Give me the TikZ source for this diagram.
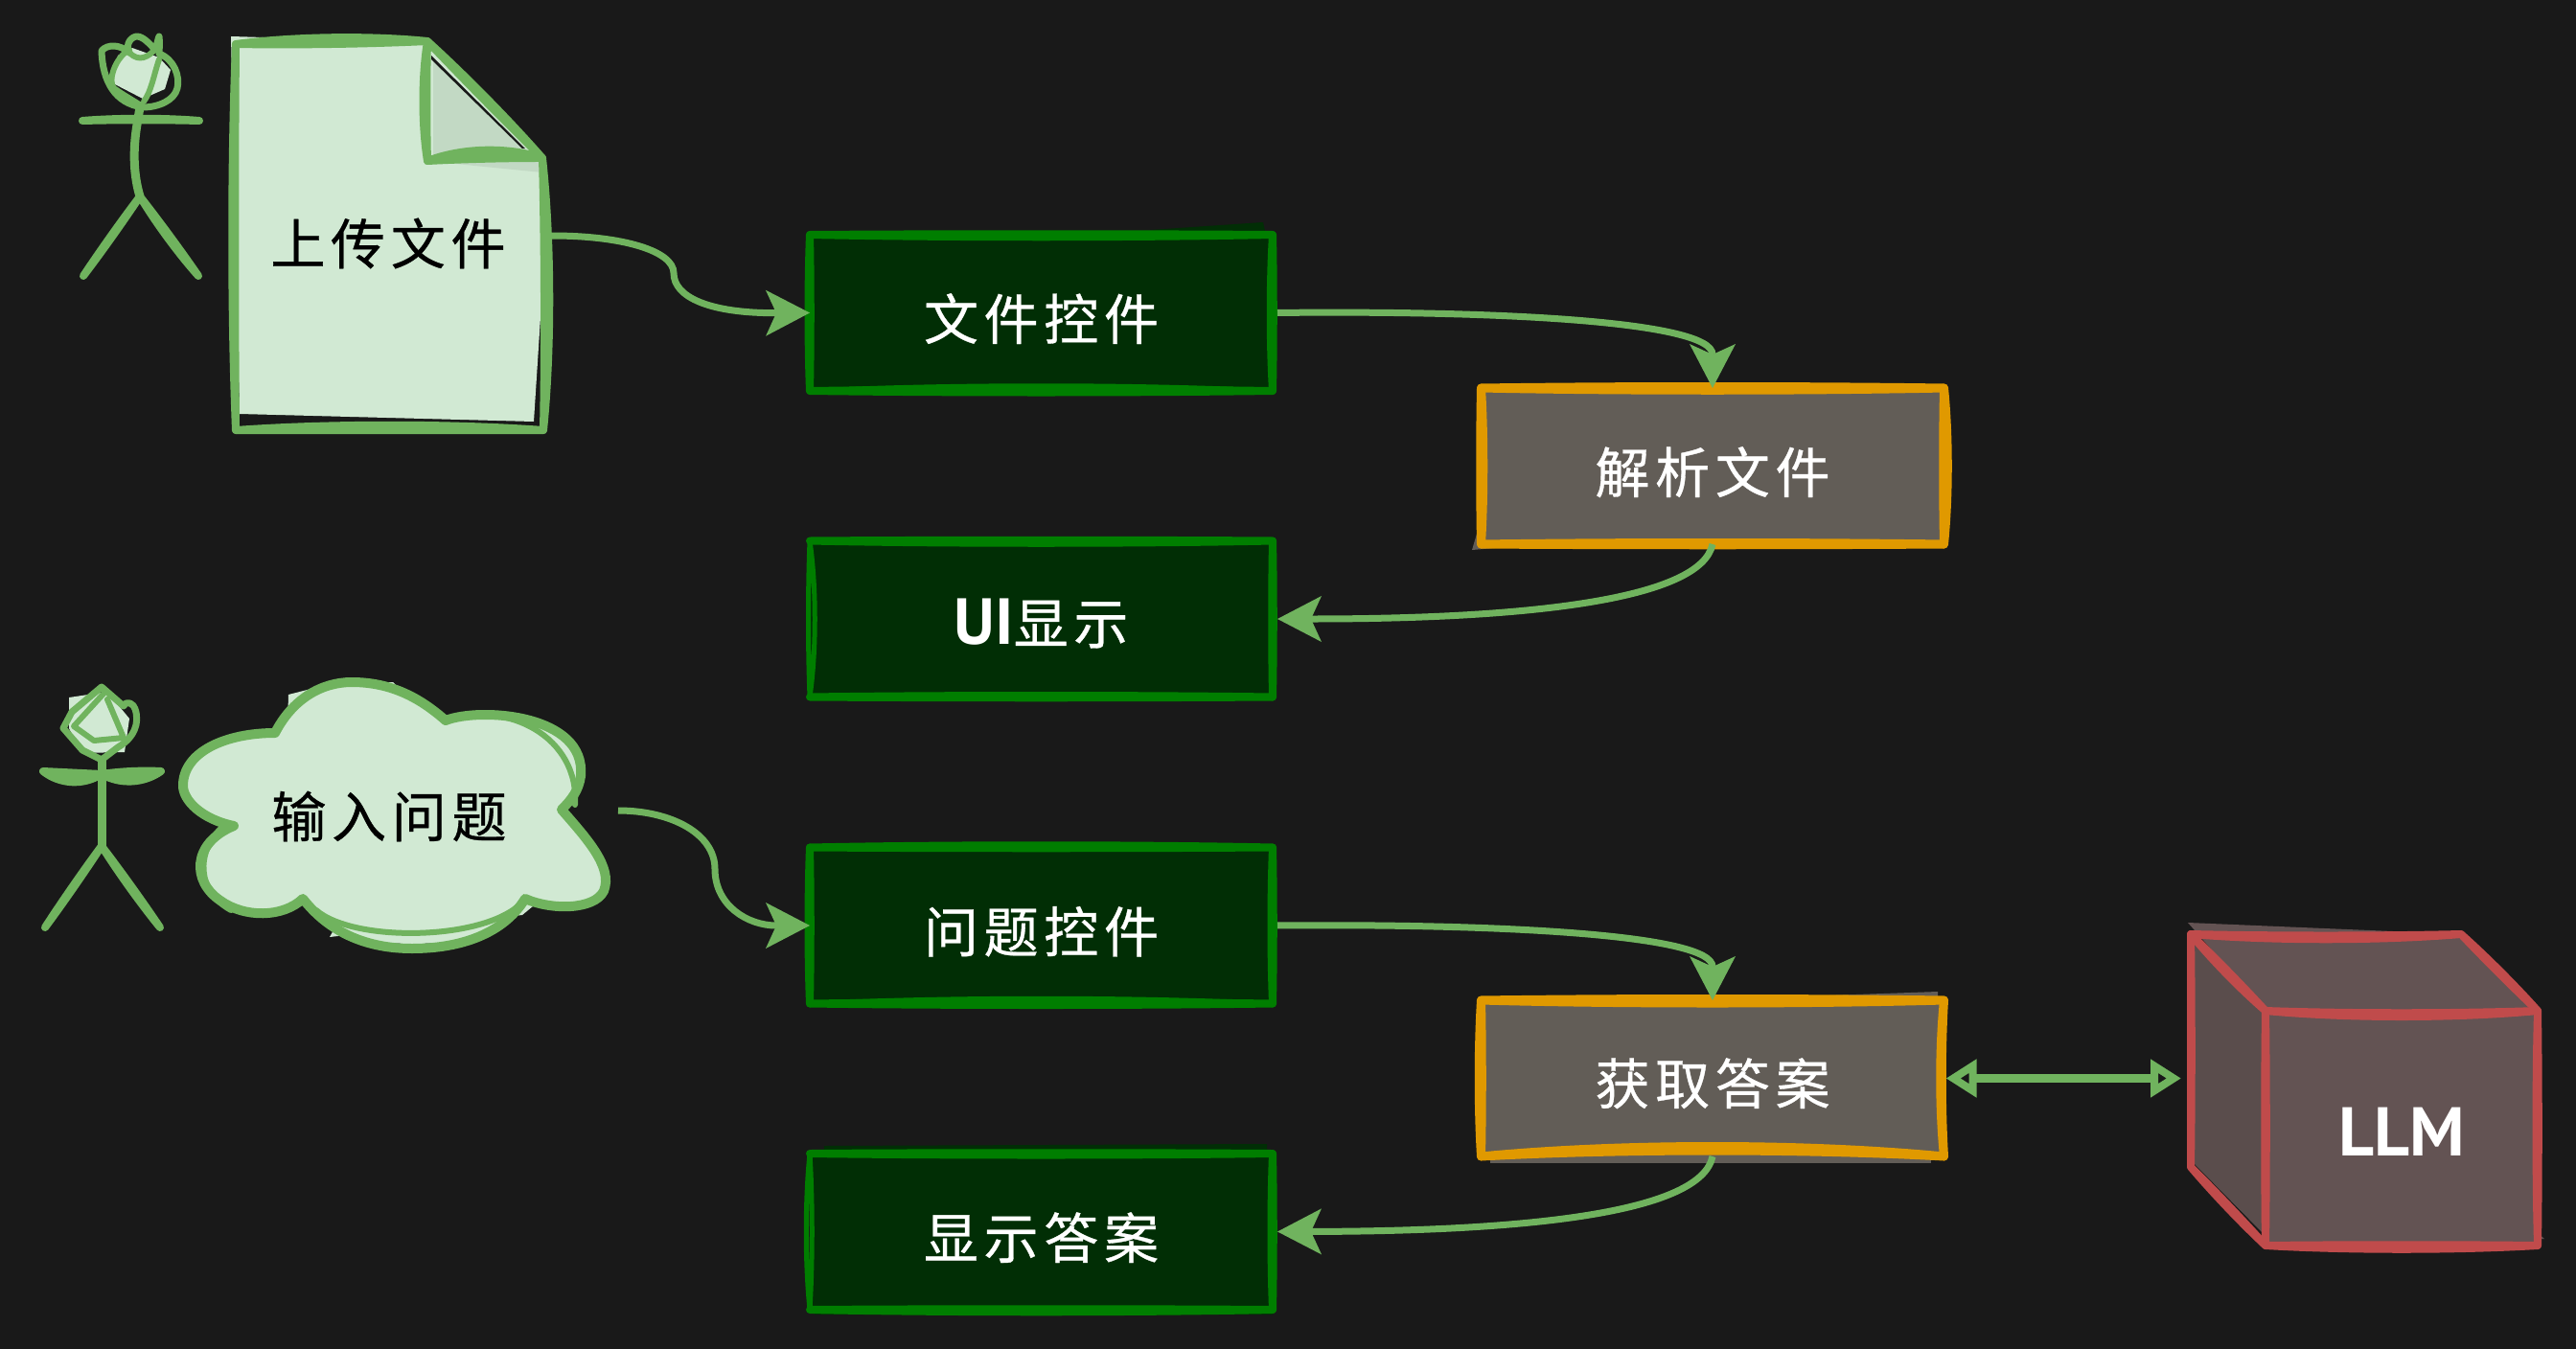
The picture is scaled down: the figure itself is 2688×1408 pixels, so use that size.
\documentclass[tikz,border=0pt]{standalone}
\usepackage{fontspec}
\usetikzlibrary{calc,arrows.meta}
\newfontfamily\cjk[LetterSpace=10,FakeBold=0.6]{Noto Sans CJK SC}
\newfontfamily\lat{PT Sans}
\definecolor{bgc}{HTML}{191919}
\definecolor{grn}{HTML}{70B35E}
\definecolor{lgt}{HTML}{D1E9D3}
\definecolor{fold}{HTML}{C2D9C4}
\definecolor{dgs}{HTML}{007E00}
\definecolor{dgf}{HTML}{012E05}
\definecolor{org}{HTML}{E09900}
\definecolor{gyf}{HTML}{625D57}
\definecolor{red}{HTML}{C04B4B}
\definecolor{cubf}{HTML}{635353}
\definecolor{cubl}{HTML}{5A4D4C}
\newcommand\sk[5]{\draw[#1,line join=round,line cap=round] #2 .. controls ($#2!.3!#3!#4pt!90:#3$) and ($#2!.7!#3!#4pt!90:#3$) .. #3 .. controls ($#3!.3!#2!#5pt!90:#2$) and ($#3!.7!#2!#5pt!90:#2$) .. #2 -- cycle;}
\newcommand\dropt[2]{\raisebox{-#1pt}[0pt][0pt]{#2}}
\tikzset{
  x=1pt,y=-1pt,
  txt/.style={font=\cjk\fontsize{57}{60}\selectfont,inner sep=0pt,outer sep=0pt},
  boxn/.style={txt,minimum width=483pt,minimum height=163pt,text=white},
  gbox/.style={boxn,fill=dgf},
  obox/.style={boxn,fill=gyf},
  gs/.style={draw=dgs,fill=dgs,line width=8pt},
  gh/.style={draw=dgs,fill=none,line width=5pt},
  os/.style={draw=org,fill=org,line width=9pt},
  oh/.style={draw=org,fill=none,line width=9pt},
  rs/.style={draw=red,fill=red,line width=8pt},
  ls/.style={draw=grn,fill=grn,line width=8pt},
  lw/.style={draw=grn,line width=7pt,line cap=round,line join=round},
  conn/.style={draw=grn,line width=7pt,-{Stealth[length=46pt,width=48pt,inset=11pt,line width=0pt]}},
  conb/.style={draw=grn,line width=9pt,{Triangle[open,length=32pt,width=38pt,line width=8pt]}-{Triangle[open,length=32pt,width=38pt,line width=8pt]}},
}
\begin{document}
\begin{tikzpicture}
\useasboundingbox (0,0) rectangle (2688,1408);
\fill[bgc] (0,0) rectangle (2688,1408);

% ---- person 1
\fill[lgt] (123,58)--(118,87)--(149,103)--(172,93)--(178,73)--(166,60)--(138,50)--cycle;
\draw[lw] (149,112) .. controls (120,108) and (107,85) .. (106,53) .. controls (112,46) and (125,46) .. (135,55) .. controls (130,45) and (138,38) .. (143,38) .. controls (150,38) and (158,48) .. (162,52) .. controls (164,46) and (165,40) .. (166,38) .. controls (167,45) and (166,52) .. (166,56) .. controls (182,62) and (188,80) .. (185,92) .. controls (182,105) and (165,112) .. (149,112);
\draw[lw,line width=6pt] (166,62) .. controls (160,80) and (158,95) .. (150,106);
\draw[lw,line width=6pt] (135,52) .. controls (120,60) and (112,85) .. (119,92) .. controls (130,100) and (140,105) .. (150,112);
\draw[lw,line width=6pt] (135,55) .. controls (145,65) and (155,60) .. (163,50);
\coordinate (h1) at (146,112);
\coordinate (w1) at (146,205);
\draw[lw,line width=9pt] (h1) -- (143,130) .. controls (138,160) and (140,185) .. (w1);
\sk{ls}{(86,126)}{(208,126)}{3}{-1}
\sk{ls}{(w1)}{(87,288)}{1}{1}
\sk{ls}{(w1)}{(207,288)}{1}{3}

% ---- document
\fill[lgt] (241,38)--(446,44)--(566,165)--(568,217)--(566,300)--(557,440)--(250,432)--cycle;
\fill[fold] (452,60)--(452,165)--(548,158)--cycle;
\fill[fold] (446,168)--(566,165)--(566,180)--cycle;
\fill[bgc] (450,58)--(548,155)--(545,155)--(450,62)--cycle;
\sk{ls}{(246,46)}{(446,43)}{7}{2}
\sk{ls}{(446,43)}{(566,165)}{3}{1}
\sk{ls}{(566,165)}{(567,449)}{9}{-2}
\sk{ls}{(567,449)}{(246,449)}{0}{7}
\sk{ls}{(246,449)}{(246,46)}{5}{-1}
\sk{ls}{(446,43)}{(446,168)}{-1}{6}
\sk{ls}{(446,168)}{(566,165)}{13}{-1}
\node[txt,text=black] (doc) at (405,254) {上传文件};
\coordinate (docout) at (576,246);

% ---- person 2
\fill[lgt] (72,728)--(112,722)--(135,750)--(130,785)--(85,786)--(72,760)--cycle;
\draw[lw] (106,717) -- (129,737) .. controls (132,730) and (140,735) .. (141,740) .. controls (146,755) and (140,770) .. (123,780) -- (106,793) -- (86,783) -- (66,760) -- (75,743) -- cycle;
\draw[lw,line width=6pt] (108,724) -- (77,758) -- (98,773) -- (129,770) -- (112,730);
\coordinate (h2) at (106,793);
\coordinate (w2) at (106,883);
\draw[lw,line width=9pt] (h2) -- (w2);
\sk{ls}{(45,805)}{(106,808)}{0}{13}
\sk{ls}{(106,808)}{(168,805)}{2}{12}
\sk{ls}{(w2)}{(47,968)}{1}{1}
\sk{ls}{(w2)}{(167,968)}{1}{2}

% ---- cloud
\fill[lgt] (301,725)--(340,715)--(410,712)--(450,750)--(300,760)--cycle;
\fill[lgt] (344,978)--(545,955)--(620,893)--(560,880)--(400,880)--cycle;
\fill[lgt] (287,765) .. controls (305,730) and (335,712) .. (367,712) .. controls (410,712) and (440,730) .. (465,752) .. controls (500,738) and (612,745) .. (606,810) .. controls (604,825) and (596,835) .. (586,845) .. controls (612,875) and (640,905) .. (630,930) .. controls (620,950) and (575,950) .. (548,938) .. controls (525,975) and (480,985) .. (430,985) .. controls (385,985) and (345,975) .. (316,938) .. controls (295,955) and (255,955) .. (230,940) .. controls (200,920) and (200,880) .. (244,862) .. controls (210,855) and (193,835) .. (193,820) .. controls (193,785) and (235,765) .. (287,765) -- cycle;
\draw[lw,line width=10pt] (287,765) .. controls (305,730) and (335,712) .. (367,712) .. controls (410,712) and (440,730) .. (465,752) .. controls (500,738) and (612,745) .. (606,810) .. controls (604,825) and (596,835) .. (586,845) .. controls (612,875) and (640,905) .. (630,930) .. controls (620,950) and (575,950) .. (548,938) .. controls (525,975) and (480,990) .. (430,990) .. controls (385,990) and (345,975) .. (316,938) .. controls (295,958) and (255,958) .. (230,940) .. controls (200,920) and (200,880) .. (244,862) .. controls (210,855) and (191,835) .. (191,820) .. controls (191,785) and (235,765) .. (287,765) -- cycle;
\draw[lw,line width=6pt] (548,938) .. controls (515,982) and (370,985) .. (330,950);
\draw[lw,line width=6pt] (241,950) .. controls (205,930) and (205,890) .. (230,865);
\draw[lw,line width=6pt] (465,752) .. controls (530,730) and (605,770) .. (600,840);
\node[txt,text=black] (cloud) at (406,852) {输入问题};
\coordinate (cloudout) at (645,846);

% ---- green boxes
\fill[dgf] (1200,240)--(1318,232)--(1322,250)--cycle;
\node[gbox] (file) at (1086.5,326.5) {\dropt{28}{文件控件}};
\sk{gs}{(file.north west)}{(file.north east)}{1}{3}
\sk{gs}{(file.north east)}{(file.south east)}{1}{3}
\sk{gs}{(file.south east)}{(file.south west)}{2}{2}
\sk{gh}{(file.south east)}{(file.south west)}{-4}{7}
\sk{gs}{(file.south west)}{(file.north west)}{2}{1}

\node[gbox] (ui) at (1086.5,646) {\dropt{26}{\lat\bfseries\fontsize{68}{70}\selectfont UI\cjk\mdseries\fontsize{57}{60}\selectfont 显示}};
\sk{gs}{(ui.north west)}{(ui.north east)}{1}{3}
\sk{gs}{(ui.north east)}{(ui.south east)}{1}{1}
\sk{gs}{(ui.south east)}{(ui.south west)}{1}{2}
\sk{gh}{(ui.south west)}{(ui.north west)}{2}{7}

\node[gbox] (ques) at (1086.5,966) {\dropt{28}{问题控件}};
\sk{gs}{(ques.north west)}{(ques.north east)}{3}{1}
\sk{gs}{(ques.north east)}{(ques.south east)}{1}{2}
\sk{gs}{(ques.south east)}{(ques.south west)}{2}{2}
\sk{gh}{(ques.south east)}{(ques.south west)}{-4}{7}
\sk{gs}{(ques.south west)}{(ques.north west)}{2}{1}

\fill[dgf] (860,1196)--(1322,1194)--(1328,1372)--(850,1372)--cycle;
\node[gbox] (ans) at (1086.5,1285.5) {\dropt{28}{显示答案}};
\sk{gs}{(ans.north west)}{(ans.north east)}{1}{2}
\sk{gs}{(ans.north east)}{(ans.south east)}{1}{2}
\sk{gs}{(ans.south east)}{(ans.south west)}{3}{1}
\sk{gh}{(ans.south west)}{(ans.north west)}{5}{3}

% ---- orange boxes
\fill[gyf] (1546,540)--(1700,560)--(1536,574)--cycle;
\node[obox] (parse) at (1787,486.5) {\dropt{28}{解析文件}};
\sk{os}{(parse.north west)}{(parse.north east)}{2}{3}
\sk{os}{(parse.north east)}{(parse.south east)}{5}{1}
\sk{os}{(parse.south east)}{(parse.south west)}{1}{2}
\sk{os}{(parse.south west)}{(parse.north west)}{1}{3}

\fill[gyf] (1880,1040)--(2022,1035)--(2022,1050)--cycle;
\fill[gyf] (1555,1200)--(2015,1200)--(2015,1214)--(1555,1214)--cycle;
\node[obox] (get) at (1787,1125.5) {\dropt{27}{获取答案}};
\sk{os}{(get.north west)}{(get.north east)}{2}{4}
\sk{os}{(get.north east)}{(get.south east)}{-3}{5}
\sk{oh}{(get.south east)}{(get.south west)}{-8}{14}
\sk{os}{(get.south west)}{(get.north west)}{3}{1}

% ---- cube
\fill[cubf] (2283,963)--(2568,975)--(2648,1055)--(2364,1055)--cycle;
\fill[cubl] (2290,980)--(2364,1060)--(2364,1290)--(2290,1215)--cycle;
\node[txt,minimum width=284pt,minimum height=245pt,fill=cubf,text=white] (llm) at (2506,1177.5) {\dropt{29}{\lat\bfseries\fontsize{72}{74}\selectfont LLM}};
\fill[cubf] (2640,1280)--(2655,1293)--(2640,1293)--cycle;
\sk{rs}{(2286,975)}{(2568,975)}{-2}{7}
\sk{rs}{(2568,975)}{(llm.north east)}{2}{1}
\sk{rs}{(llm.north east)}{(llm.south east)}{1}{2}
\sk{rs}{(llm.south east)}{(llm.south west)}{5}{1}
\sk{rs}{(llm.south west)}{(llm.north west)}{1}{1}
\sk{rs}{(llm.north west)}{(llm.north east)}{-3}{8}
\sk{rs}{(llm.north west)}{(2286,975)}{3}{1}
\sk{rs}{(2286,975)}{(2286,1218)}{1}{0}
\sk{rs}{(2286,1218)}{(llm.south west)}{1}{2}
\coordinate (llmin) at (2276,1125.5);

% ---- connectors
\draw[conn] (docout) .. controls (650,246) and (703,262) .. (703,285) .. controls (703,310) and (740,327) .. (file.west);
\draw[conn,shorten <=5pt] (file.east) .. controls (1560,324) and (1787,335) .. (parse.north);
\draw[conn,shorten >=5pt] (parse.south) .. controls (1775,625) and (1600,646) .. (ui.east);
\draw[conn] (cloudout) .. controls (700,846) and (746,870) .. (746,907) .. controls (746,945) and (780,966) .. (ques.west);
\draw[conn,shorten <=5pt] (ques.east) .. controls (1560,964) and (1787,975) .. (get.north);
\draw[conn,shorten >=5pt] (get.south) .. controls (1775,1265) and (1600,1285) .. (ans.east);
\draw[conb,shorten <=2pt] (get.east) -- (llmin);
\end{tikzpicture}
\end{document}
